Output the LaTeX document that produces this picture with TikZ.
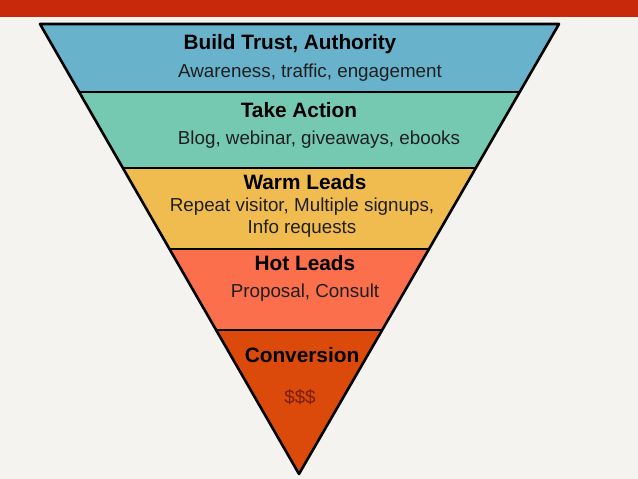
\documentclass[tikz,border=0pt]{standalone}
\usepackage{fontspec}
\setmainfont{Liberation Sans}
\definecolor{bg}{HTML}{F4F3EF}
\definecolor{topbar}{HTML}{C8290B}
\definecolor{c1}{HTML}{68B3CB}
\definecolor{c2}{HTML}{74C9B0}
\definecolor{c3}{HTML}{F0BC50}
\definecolor{c4}{HTML}{FB6F4D}
\definecolor{c5}{HTML}{DC4A0B}
\definecolor{dollar}{HTML}{7A1E08}
\tikzset{
  head/.style={font=\fontsize{20.8}{24}\selectfont\bfseries, text=black, inner sep=0pt},
  sub/.style={font=\fontsize{18.8}{22}\selectfont, text=black!88, inner sep=0pt, align=center},
  edge/.style={line width=2.6pt, line join=round},
  divider/.style={line width=2.2pt}
}
\begin{document}
\begin{tikzpicture}[x=1pt,y=-1pt]
\useasboundingbox (0,0) rectangle (638,479);
\fill[bg] (0,0) rectangle (638,479);
\fill[topbar] (0,0) rectangle (638,17);
% funnel corners
\coordinate (tl) at (40,24);
\coordinate (tr) at (559,24);
\coordinate (ap) at (299,474);
\coordinate (l1) at (79.14,92);
\coordinate (r1) at (519.71,92);
\coordinate (l2) at (122.88,168);
\coordinate (r2) at (475.8,168);
\coordinate (l3) at (169.5,249);
\coordinate (r3) at (429,249);
\coordinate (l4) at (216.12,330);
\coordinate (r4) at (382.2,330);
\fill[c1] (tl) -- (tr) -- (r1) -- (l1) -- cycle;
\fill[c2] (l1) -- (r1) -- (r2) -- (l2) -- cycle;
\fill[c3] (l2) -- (r2) -- (r3) -- (l3) -- cycle;
\fill[c4] (l3) -- (r3) -- (r4) -- (l4) -- cycle;
\fill[c5] (l4) -- (r4) -- (ap) -- cycle;
\draw[divider] (l1) -- (r1);
\draw[divider] (l2) -- (r2);
\draw[divider] (l3) -- (r3);
\draw[divider] (l4) -- (r4);
\draw[edge] (tl) -- (tr) -- (ap) -- cycle;
% texts
\node[head] (t1) at (290,44) {Build Trust, Authority};
\node[sub] (s1) at (310,73) {Awareness, traffic, engagement};
\node[head] (t2) at (299,110) {Take Action};
\node[sub] (s2) at (319,140) {Blog, webinar, giveaways, ebooks};
\node[head] (t3) at (305,182) {Warm Leads};
\node[sub] (s3) at (302,218) {Repeat visitor, Multiple signups,\\Info requests};
\node[head] (t4) at (305,263) {Hot Leads};
\node[sub] (s4) at (305,293) {Proposal, Consult};
\node[head] (t5) at (302,355) {Conversion};
\node[sub, text=dollar] (s5) at (300,397) {\$\$\$};
\end{tikzpicture}
\end{document}
